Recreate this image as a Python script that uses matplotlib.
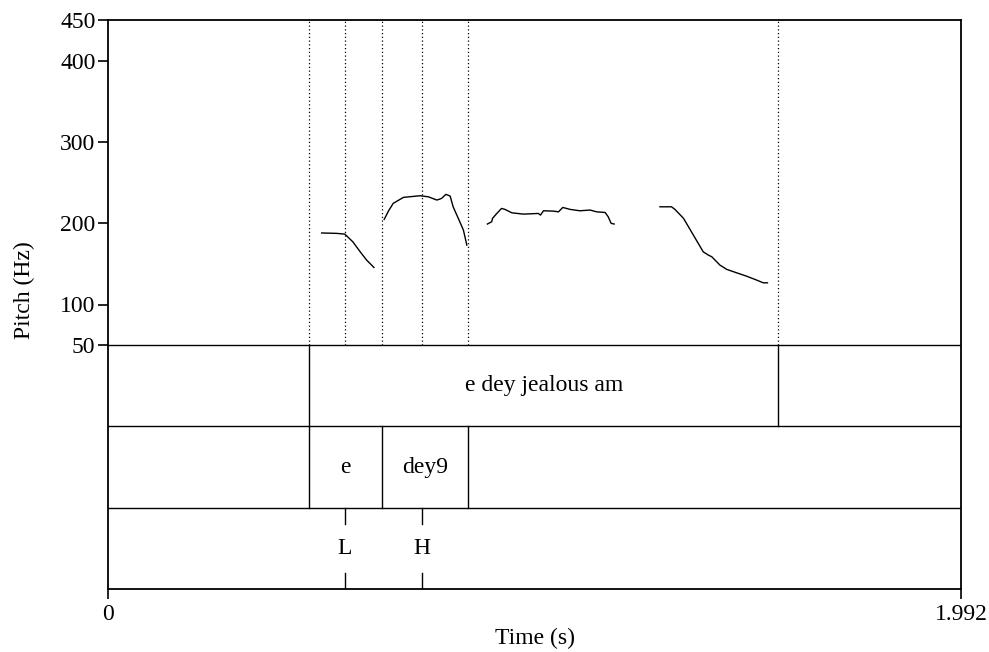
import matplotlib.pyplot as plt

plt.rcParams['font.family'] = ['Liberation Serif', 'DejaVu Serif']

# pitch contour pieces (time s, Hz)
t1 = [0.499, 0.534, 0.553, 0.572, 0.589, 0.604, 0.621]
f1 = [188, 187.5, 186.6, 177, 164.8, 154.6, 145.6]
t2 = [0.645, 0.655, 0.666, 0.690, 0.729, 0.748, 0.768, 0.779, 0.789, 0.799,
      0.806, 0.818, 0.830, 0.838]
f2 = [204.7, 215, 224.4, 231.8, 233.8, 232.5, 228.5, 230.5, 235.5, 233.4,
      220.2, 206, 191.5, 173]
t3 = [0.886, 0.896, 0.898, 0.908, 0.919, 0.927, 0.943, 0.970, 1.005, 1.010,
      1.017, 1.040, 1.052, 1.062, 1.079, 1.102, 1.126, 1.141, 1.161, 1.168,
      1.175, 1.182]
f3 = [199, 201.8, 206, 212, 218.2, 217, 212.8, 211.2, 212, 210, 215.3, 214.9,
      214, 219.4, 217, 215.3, 216.2, 214, 213.2, 208, 199.8, 199]
t4 = [1.289, 1.316, 1.324, 1.344, 1.367, 1.390, 1.402, 1.410, 1.429, 1.445,
      1.468, 1.491, 1.515, 1.530, 1.540]
f4 = [220.2, 220.2, 217, 206, 185.4, 164.8, 160.8, 158.7, 148.5, 143.2, 139,
      134.9, 130, 126.7, 126.7]
segments = [(t1, f1), (t2, f2), (t3, f3), (t4, f4)]

# text grid
tier1_bounds = [0.470, 1.565]
tier1_labels = ["e dey jealous am"]
tier2_bounds = [0.470, 0.639, 0.8415]
tier2_labels = ["e", "dey9"]
tier3_points = [0.5535, 0.7326]
tier3_labels = ["L", "H"]
dotted_times = [0.470, 0.5535, 0.639, 0.7326, 0.8415, 1.565]

t_end = 1.992
ytick_vals = [50, 100, 200, 300, 400, 450]
fs = 17

fig = plt.figure(figsize=(9.89, 6.52), dpi=100)
ax = fig.add_axes([108 / 989, 1 - 589 / 652, 853 / 989, 569 / 652])
ax.set_xlim(0, t_end)
ax.set_ylim(-250, 450)

for t, f in segments:
    ax.plot(t, f, color='black', lw=1.0)

for t in dotted_times:
    ax.plot([t, t], [50, 450], color='black', lw=0.9, ls=(0, (1, 2)))

# tier separators
for y in [50, -50, -150]:
    ax.axhline(y, color='black', lw=1.0)

for t in tier1_bounds:
    ax.plot([t, t], [-50, 50], color='black', lw=1.0)
ax.text((tier1_bounds[0] + tier1_bounds[1]) / 2, 0, tier1_labels[0],
        ha='center', va='center', fontsize=fs)

for t in tier2_bounds:
    ax.plot([t, t], [-150, -50], color='black', lw=1.0)
for i, lab in enumerate(tier2_labels):
    ax.text((tier2_bounds[i] + tier2_bounds[i + 1]) / 2, -100, lab,
            ha='center', va='center', fontsize=fs)

for t, lab in zip(tier3_points, tier3_labels):
    ax.plot([t, t], [-150, -170], color='black', lw=1.0)
    ax.plot([t, t], [-250, -230], color='black', lw=1.0)
    ax.text(t, -200, lab, ha='center', va='center', fontsize=fs)

ax.set_yticks(ytick_vals)
ax.set_xticks([0, t_end])
ax.set_xticklabels(['0', '1.992'])
ax.tick_params(direction='out', length=7, width=1.2, labelsize=fs, pad=2)
ax.tick_params(axis='x', length=7, pad=4)
for s in ax.spines.values():
    s.set_linewidth(1.3)

fig.text(24 / 989, 1 - 290 / 652, 'Pitch (Hz)', rotation=90,
         ha='center', va='center', fontsize=fs)
fig.text(535 / 989, 1 - 638 / 652, 'Time (s)', ha='center', va='center',
         fontsize=fs)

fig.savefig('out.png', dpi=100)
